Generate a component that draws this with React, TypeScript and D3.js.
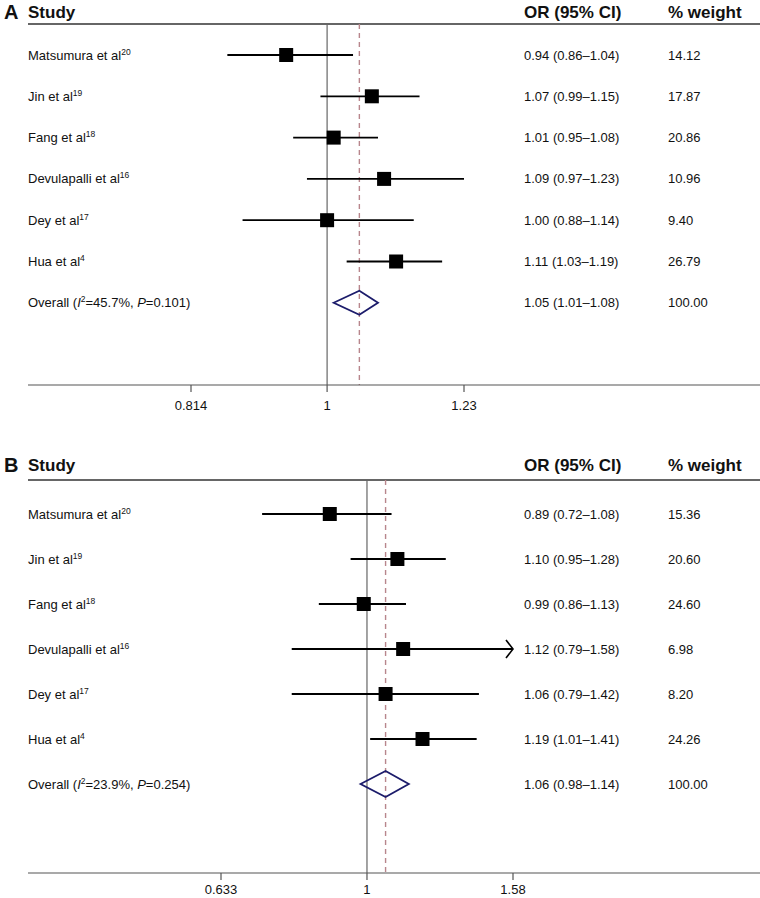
import React from 'react';
import * as d3 from 'd3';

const studies = ['Matsumura et al', 'Jin et al', 'Fang et al', 'Devulapalli et al', 'Dey et al', 'Hua et al'];
const refs = ['20', '19', '18', '16', '17', '4'];

const orA = [0.94, 1.07, 1.01, 1.09, 1.0, 1.11];
const loA = [0.86, 0.99, 0.95, 0.97, 0.88, 1.03];
const hiA = [1.04, 1.15, 1.08, 1.23, 1.14, 1.19];
const weightA = ['14.12', '17.87', '20.86', '10.96', '9.40', '26.79'];
const truncA = [false, false, false, false, false, false];
const overallA = { or: 1.05, lo: 1.01, hi: 1.08, i2: '45.7', p: '0.101' };
const ticksA = [0.814, 1, 1.23];

const orB = [0.89, 1.1, 0.99, 1.12, 1.06, 1.19];
const loB = [0.72, 0.95, 0.86, 0.79, 0.79, 1.01];
const hiB = [1.08, 1.28, 1.13, 1.58, 1.42, 1.41];
const weightB = ['15.36', '20.60', '24.60', '6.98', '8.20', '24.26'];
const truncB = [false, false, false, true, false, false];
const overallB = { or: 1.06, lo: 0.98, hi: 1.14, i2: '23.9', p: '0.254' };
const ticksB = [0.633, 1, 1.58];

const FONT = '"Liberation Sans", Arial, sans-serif';
const fmt = (v: number) => v.toFixed(2);

type PanelProps = {
  letter: string;
  or: number[];
  lo: number[];
  hi: number[];
  weight: string[];
  trunc: boolean[];
  overall: { or: number; lo: number; hi: number; i2: string; p: string };
  ticks: number[];
  range: [number, number];
  headY: number;
  lineY: number;
  row0: number;
  step: number;
  axisY: number;
  labelGap: number;
  dHalf: number;
};

const Panel = (p: PanelProps) => {
  const x = d3.scaleLog().domain([p.ticks[0], p.ticks[2]]).range(p.range);
  const y = (i: number) => p.row0 + i * p.step;
  const sq = 14;
  const oy = y(studies.length);

  return (
    <g fontFamily={FONT} fill="#111">
      <text x={4} y={p.headY + 7} fontSize={20} fontWeight="bold">{p.letter}</text>
      <text x={28} y={p.headY + 6} fontSize={17} fontWeight="bold">Study</text>
      <text x={524} y={p.headY + 6} fontSize={17} fontWeight="bold">OR (95% CI)</text>
      <text x={668} y={p.headY + 6} fontSize={17} fontWeight="bold">% weight</text>
      <line x1={28} x2={760} y1={p.lineY} y2={p.lineY} stroke="#333" strokeWidth={1.5} />

      {/* no-effect line and pooled estimate */}
      <line x1={x(1)} x2={x(1)} y1={p.lineY} y2={p.axisY} stroke="#666" strokeWidth={1.2} />
      <line x1={x(p.overall.or)} x2={x(p.overall.or)} y1={p.lineY} y2={p.axisY}
        stroke="#b8868c" strokeWidth={1.4} strokeDasharray="5,4" />

      {studies.map((s, i) => {
        const cy = y(i);
        const xr = x(p.hi[i]);
        return (
          <g key={s}>
            <text x={28} y={cy + 4.5} fontSize={13}>
              {s}<tspan fontSize={8.5} dy={-5}>{refs[i]}</tspan>
            </text>
            <line x1={x(p.lo[i])} x2={xr} y1={cy} y2={cy} stroke="#000" strokeWidth={1.8} />
            {p.trunc[i] && (
              <path d={`M${xr - 7},${cy - 9}L${xr},${cy}L${xr - 7},${cy + 9}`}
                fill="none" stroke="#000" strokeWidth={1.6} />
            )}
            <rect x={x(p.or[i]) - sq / 2} y={cy - sq / 2} width={sq} height={sq} fill="#000" />
            <text x={524} y={cy + 4.5} fontSize={13}>
              {`${fmt(p.or[i])} (${fmt(p.lo[i])}–${fmt(p.hi[i])})`}
            </text>
            <text x={668} y={cy + 4.5} fontSize={13}>{p.weight[i]}</text>
          </g>
        );
      })}

      <text x={28} y={oy + 4.5} fontSize={13}>
        Overall (<tspan fontStyle="italic">I</tspan>
        <tspan fontSize={8.5} dy={-5}>2</tspan>
        <tspan dy={5}>={p.overall.i2}%, </tspan>
        <tspan fontStyle="italic">P</tspan>={p.overall.p})
      </text>
      <path
        d={`M${x(p.overall.lo)},${oy}L${x(p.overall.or)},${oy - p.dHalf}L${x(p.overall.hi)},${oy}L${x(p.overall.or)},${oy + p.dHalf}Z`}
        fill="none" stroke="#1c1c6b" strokeWidth={1.8} />
      <text x={524} y={oy + 4.5} fontSize={13}>
        {`${fmt(p.overall.or)} (${fmt(p.overall.lo)}–${fmt(p.overall.hi)})`}
      </text>
      <text x={668} y={oy + 4.5} fontSize={13}>100.00</text>

      <line x1={28} x2={760} y1={p.axisY} y2={p.axisY} stroke="#555" strokeWidth={1.2} />
      {p.ticks.map(t => (
        <g key={t}>
          <line x1={x(t)} x2={x(t)} y1={p.axisY} y2={p.axisY + 7} stroke="#555" strokeWidth={1.2} />
          <text x={x(t)} y={p.axisY + p.labelGap} fontSize={13} textAnchor="middle">{String(t)}</text>
        </g>
      ))}
    </g>
  );
};

const App = () => (
  <svg width={760} height={898} style={{ position: 'absolute', left: 0, top: 0, background: '#fff' }}>
    <Panel letter="A" or={orA} lo={loA} hi={hiA} weight={weightA} trunc={truncA} overall={overallA}
      ticks={ticksA} range={[191, 464]} headY={12} lineY={24} row0={55} step={41.3}
      axisY={385} labelGap={25} dHalf={12} />
    <Panel letter="B" or={orB} lo={loB} hi={hiB} weight={weightB} trunc={truncB} overall={overallB}
      ticks={ticksB} range={[221, 513]} headY={465} lineY={480} row0={514} step={45}
      axisY={873} labelGap={21} dHalf={13} />
  </svg>
);

export default App;
